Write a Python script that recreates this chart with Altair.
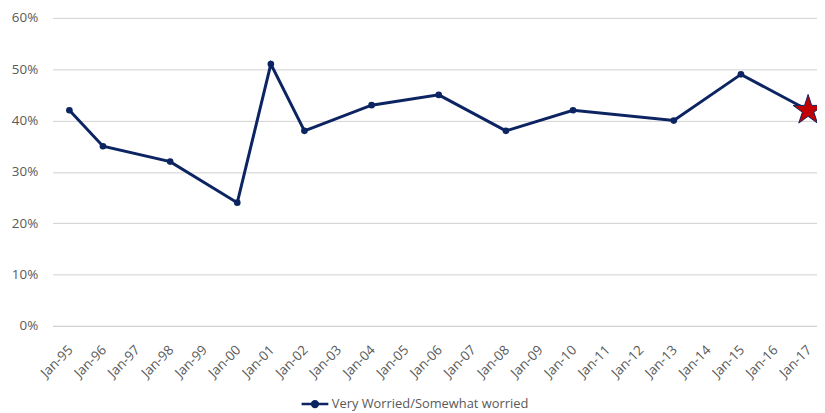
import altair as alt
import pandas as pd

axis_labels = ["Jan-95", "Jan-96", "Jan-97", "Jan-98", "Jan-99", "Jan-00", "Jan-01",
               "Jan-02", "Jan-03", "Jan-04", "Jan-05", "Jan-06", "Jan-07", "Jan-08",
               "Jan-09", "Jan-10", "Jan-11", "Jan-12", "Jan-13", "Jan-14", "Jan-15",
               "Jan-16", "Jan-17"]
survey_dates = ["Jan-95", "Jan-96", "Jan-98", "Jan-00", "Jan-01", "Jan-02", "Jan-04",
                "Jan-06", "Jan-08", "Jan-10", "Jan-13", "Jan-15", "Jan-17"]
worried_pct = [42, 35, 32, 24, 51, 38, 43, 45, 38, 42, 40, 49, 42]
series_name = "Very Worried/Somewhat worried"
latest_date = "Jan-17"
y_ticks = [0, 0.1, 0.2, 0.3, 0.4, 0.5, 0.6]

df = pd.DataFrame({
    "date": survey_dates,
    "value": [v / 100 for v in worried_pct],
    "series": series_name,
})

NAVY = "#0c2461"
RED = "#c00000"
GRID = "#d0d0d0"
TXT = "#595959"
FONT = "Open Sans"

legend_symbol = ("M-1,0L1,0M0.22,0A0.22,0.22,0,1,1,-0.22,0"
                 "A0.22,0.22,0,1,1,0.22,0Z")
star_path = ("M0,-1L0.2245,-0.309L0.951,-0.309L0.3633,0.118L0.5878,0.809L0,0.382"
             "L-0.5878,0.809L-0.3633,0.118L-0.951,-0.309L-0.2245,-0.309Z")

x_enc = alt.X(
    "date:N",
    sort=axis_labels,
    scale=alt.Scale(type="point", domain=axis_labels, padding=0.383, align=0.654),
    axis=alt.Axis(title=None, labelAngle=-45, ticks=False, grid=False,
                  domainColor=GRID, domainWidth=1, labelColor=TXT,
                  labelFontSize=13.5, labelFont=FONT, labelPadding=17,
                  labelOffset=-4),
)
y_enc = alt.Y(
    "value:Q",
    scale=alt.Scale(domain=[0, 0.6]),
    axis=alt.Axis(title=None, format=".0%", values=y_ticks, domain=False, ticks=False,
                  gridColor=GRID, gridWidth=1, labelColor=TXT, labelFontSize=13.5,
                  labelFont=FONT, labelPadding=15),
)

line = alt.Chart(df).mark_line(
    strokeWidth=3,
    point=alt.OverlayMarkDef(filled=True, size=45, color=NAVY),
).encode(
    x=x_enc,
    y=y_enc,
    color=alt.Color(
        "series:N",
        scale=alt.Scale(range=[NAVY]),
        legend=alt.Legend(
            title=None, orient="none", legendX=250, legendY=375,
            symbolType=legend_symbol, symbolSize=729, symbolStrokeWidth=2.5,
            symbolFillColor=NAVY, symbolStrokeColor=NAVY, symbolOffset=0,
            labelColor=TXT, labelFontSize=13, labelFont=FONT, labelOffset=2,
            labelLimit=0, padding=0,
        ),
    ),
)

star = alt.Chart(df).transform_filter(
    alt.datum.date == latest_date
).mark_point(
    shape=star_path, filled=True, fill=RED, stroke=NAVY, strokeWidth=1,
    size=1024, opacity=1,
).encode(x=x_enc, y=y_enc)

chart = alt.layer(line, star).properties(
    width=772, height=311,
    autosize=alt.AutoSizeParams(type="none"),
    padding={"left": 45, "top": 8, "right": 0, "bottom": 86},
).configure_view(stroke=None)

chart.save("out.html", embed_options={"renderer": "svg", "actions": False})
